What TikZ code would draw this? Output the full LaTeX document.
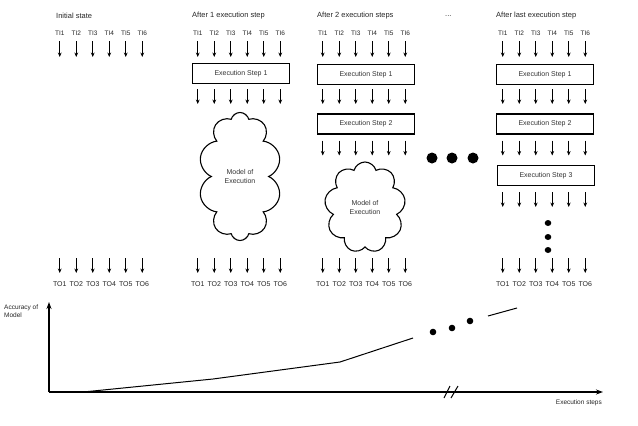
\documentclass[tikz,border=0pt]{standalone}
\usepackage{fontspec}
\setmainfont{Liberation Sans}
\usetikzlibrary{arrows.meta,shapes.symbols}
\begin{document}
\begin{tikzpicture}[x=1pt,y=-1pt,
  title/.style={font=\fontsize{7.5}{9}\selectfont, text=black!85, anchor=west, inner sep=0},
  tilab/.style={font=\fontsize{6.5}{8}\selectfont, text=black!85, inner sep=0},
  tolab/.style={font=\fontsize{7}{8}\selectfont, text=black!85, inner sep=0},
  arr/.style={line width=0.8pt, -{Stealth[length=4.5pt,width=3.8pt]}},
  stepbox/.style={draw, line width=1.8pt, minimum width=97pt, minimum height=20pt, inner sep=0,
     font=\fontsize{7}{8}\selectfont, text=black!80},
  cloudshape/.style={cloud, draw, line width=1.1pt, cloud ignores aspect, inner sep=0,
     font=\fontsize{7}{8.5}\selectfont, text=black!80, align=center},
  axis/.style={line width=1.2pt, -{Stealth[length=7pt,width=5pt]}},
  curve/.style={line width=1pt},
  dot/.style={fill=black}
]
\useasboundingbox (0,0) rectangle (638,426);

% titles
\node[title] (t1) at (56,16) {Initial state};
\node[title] (t2) at (192,16) {After 1 execution step};
\node[title] (t3) at (317,16) {After 2 execution steps};
\node[title] (t4) at (445,16) {...};
\node[title] (t5) at (496,16) {After last execution step};

% column arrows: (center x) for each column
\foreach \col/\cx in {1/101,2/239,3/364,4/544}{
  \foreach \i in {1,...,6}{
    \pgfmathsetmacro{\xx}{\cx+(\i-3.5)*16.5}
    \node[tilab] (ti\col\i) at (\xx,33) {TI\i};
    \coordinate (a\col\i s) at (\xx,41);
    \coordinate (a\col\i e) at (\xx,57);
    \draw[arr] (a\col\i s) -- (a\col\i e);
    \coordinate (b\col\i s) at (\xx,258);
    \coordinate (b\col\i e) at (\xx,273);
    \draw[arr] (b\col\i s) -- (b\col\i e);
    \node[tolab] (to\col\i) at (\xx,284) {TO\i};
  }
}
% arrows after step boxes
\foreach \col/\cx/\n in {2/239/1,3/364/2,4/544/3}{
  \foreach \k in {1,...,\n}{
    \foreach \i in {1,...,6}{
      \pgfmathsetmacro{\xx}{\cx+(\i-3.5)*16.5}
      \pgfmathsetmacro{\ys}{89+(\k-1)*51.5}
      \coordinate (m\col\k\i s) at (\xx,\ys);
      \coordinate (m\col\k\i e) at (\xx,\ys+15);
      \draw[arr] (m\col\k\i s) -- (m\col\k\i e);
    }
  }
}

% step boxes
\node[stepbox] (s21) at (241,73.5) {Execution Step 1};
\node[stepbox] (s31) at (366,74.5) {Execution Step 1};
\node[stepbox] (s32) at (366,124) {Execution Step 2};
\node[stepbox] (s41) at (545,74.5) {Execution Step 1};
\node[stepbox] (s42) at (545,124) {Execution Step 2};
\node[stepbox] (s43) at (546,175.5) {Execution Step 3};

% clouds
\node[cloudshape, cloud puffs=10, minimum width=83pt, minimum height=128pt] (cl2) at (240,176.5) {Model of\\Execution};
\node[cloudshape, cloud puffs=9, minimum width=81pt, minimum height=91pt] (cl3) at (365,207.5) {Model of\\Execution};

% big dots
\fill[dot] (432,158) circle (5.5);
\fill[dot] (452,158) circle (5.5);
\fill[dot] (473,158) circle (5.5);
% vertical dots
\fill[dot] (548,223) ellipse (3.3 and 3);
\fill[dot] (548,237) ellipse (3.3 and 3);
\fill[dot] (548,250) ellipse (3.3 and 3);

% graph
\coordinate (origin) at (49,392);
\coordinate (ytop) at (49,302);
\coordinate (xend) at (603,392);
\draw[axis] (origin) -- (ytop);
\draw[axis] (origin) -- (xend);
\node[font=\fontsize{6.5}{8}\selectfont, text=black!85, anchor=north west, align=left, inner sep=0] (ylab) at (4,305) {Accuracy of\\Model};
\node[font=\fontsize{6.5}{8}\selectfont, text=black!85, anchor=east, inner sep=0] (xlab) at (602,403) {Execution steps};
% break marks
\draw[line width=1pt] (444,398) -- (450,386);
\draw[line width=1pt] (451,398) -- (458,386);
% curve
\coordinate (p0) at (83,392);
\coordinate (p1) at (213,379);
\coordinate (p2) at (340,362);
\coordinate (p3) at (413,338);
\draw[curve] (p0) -- (p1) -- (p2) -- (p3);
\coordinate (q0) at (488,316);
\coordinate (q1) at (517,308);
\draw[curve] (q0) -- (q1);
\fill[dot] (433,332) circle (3.3);
\fill[dot] (452,328) circle (3.3);
\fill[dot] (470,321) circle (3.3);
\end{tikzpicture}
\end{document}
